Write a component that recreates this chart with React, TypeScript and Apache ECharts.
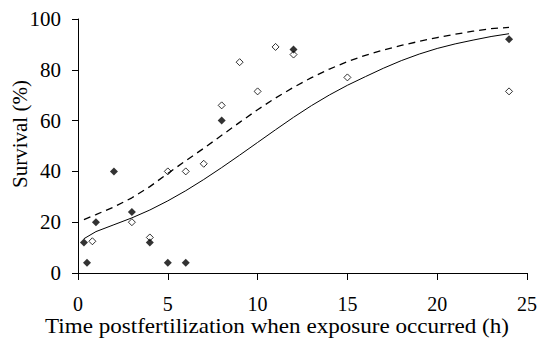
import React, { useEffect, useRef } from "react";
import * as echarts from "echarts";

const xTicks = [0, 5, 10, 15, 20, 25];
const yTicks = [0, 20, 40, 60, 80, 100];

// Filled diamonds (x: hours, y: survival %)
const filledX = [0.33, 0.5, 1, 2, 3, 4, 5, 6, 8, 12, 24];
const filledY = [12, 4, 20, 40, 24, 12, 4, 4, 60, 88, 92];

// Open diamonds
const openX = [0.8, 3, 4, 5, 6, 7, 8, 9, 10, 11, 12, 15, 24];
const openY = [12.5, 20, 14, 40, 40, 43, 66, 83, 71.5, 89, 86, 77, 71.5];

// Solid fitted curve
const solidX = [0.33, 1, 2, 3, 4, 5, 6, 7, 8, 9, 10, 11, 12, 13, 14, 15, 16, 17, 18, 19, 20, 21, 22, 23, 24];
const solidY = [13.5, 16.3, 19, 21.7, 24.8, 28.4, 32.4, 36.8, 41.5, 46.4, 51.4, 56.4, 61.3, 65.9, 70.1, 73.9, 77.3, 80.6, 83.6, 86.2, 88.4, 90.2, 91.7, 93.1, 94.2];

// Dashed fitted curve
const dashedX = [0.33, 1, 2, 3, 4, 5, 6, 7, 8, 9, 10, 11, 12, 13, 14, 15, 16, 17, 18, 19, 20, 21, 22, 23, 24];
const dashedY = [21, 23, 26, 29.6, 34, 39.2, 44.2, 49.1, 54.2, 59.3, 64.3, 68.9, 73.1, 76.9, 80.3, 83.2, 85.7, 87.8, 89.6, 91.2, 92.7, 94, 95.2, 96.2, 96.7];

const xTitle = "Time postfertilization when exposure occurred (h)";
const yTitle = "Survival (%)";

const zip = (xs: number[], ys: number[]) => xs.map((x, i) => [x, ys[i]]);

const FONT = "Liberation Serif";

export default function App() {
  const ref = useRef<HTMLDivElement>(null);
  useEffect(() => {
    if (!ref.current) return;
    const chart = echarts.init(ref.current, undefined, { renderer: "svg" });
    chart.setOption({
      animation: false,
      backgroundColor: "#ffffff",
      textStyle: { fontFamily: FONT },
      grid: { left: 78, right: 12, top: 19, bottom: 78, containLabel: false },
      xAxis: {
        type: "value",
        min: xTicks[0],
        max: xTicks[xTicks.length - 1],
        interval: xTicks[1] - xTicks[0],
        axisLine: { show: true, onZero: false, lineStyle: { color: "#000", width: 1 } },
        axisTick: { show: true, length: 7, lineStyle: { color: "#000", width: 1 } },
        splitLine: { show: false },
        axisLabel: { color: "#000", fontFamily: FONT, fontSize: 20, margin: 21 },
      },
      yAxis: {
        type: "value",
        min: yTicks[0],
        max: yTicks[yTicks.length - 1],
        interval: yTicks[1] - yTicks[0],
        axisLine: { show: true, lineStyle: { color: "#000", width: 1 } },
        axisTick: { show: true, length: 6, lineStyle: { color: "#000", width: 1 } },
        splitLine: { show: false },
        axisLabel: { color: "#000", fontFamily: FONT, fontSize: 21, margin: 17 },
      },
      graphic: [
        {
          type: "text",
          x: 277,
          y: 326,
          scaleX: 1.1,
          style: {
            text: xTitle,
            fontFamily: FONT,
            fontSize: 21,
            fill: "#000",
            textAlign: "center",
            textVerticalAlign: "middle",
          },
        },
        {
          type: "text",
          x: 20,
          y: 134,
          rotation: Math.PI / 2,
          style: {
            text: yTitle,
            fontFamily: FONT,
            fontSize: 21,
            fill: "#000",
            textAlign: "center",
            textVerticalAlign: "middle",
          },
        },
      ],
      series: [
        {
          type: "line",
          data: zip(solidX, solidY),
          showSymbol: false,
          symbol: "none",
          smooth: false,
          lineStyle: { color: "#000", width: 1 },
        },
        {
          type: "line",
          data: zip(dashedX, dashedY),
          showSymbol: false,
          symbol: "none",
          smooth: false,
          lineStyle: { color: "#000", width: 1.3, type: [7, 5] },
        },
        {
          type: "scatter",
          data: zip(openX, openY),
          symbol: "diamond",
          symbolSize: 7,
          itemStyle: { color: "#fff", borderColor: "#000", borderWidth: 1 },
        },
        {
          type: "scatter",
          data: zip(filledX, filledY),
          symbol: "diamond",
          symbolSize: 8,
          itemStyle: { color: "#000" },
        },
      ],
    });
    return () => chart.dispose();
  }, []);
  return (
    <div
      ref={ref}
      style={{ position: "fixed", left: 0, top: 0, width: 540, height: 351, background: "#fff" }}
    />
  );
}
